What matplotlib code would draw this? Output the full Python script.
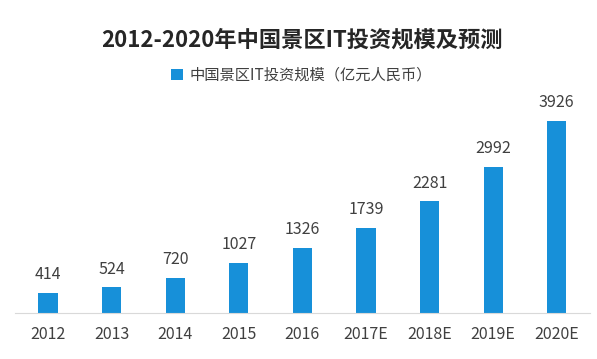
import matplotlib
matplotlib.use('Agg')
import matplotlib.pyplot as plt

plt.rcParams['font.family'] = ['Noto Sans CJK SC', 'DejaVu Sans']

# 数据
years = ['2012', '2013', '2014', '2015', '2016', '2017E', '2018E', '2019E', '2020E']
invest = [414, 524, 720, 1027, 1326, 1739, 2281, 2992, 3926]

bar_color = '#1790d9'
text_color = '#404040'

fig = plt.figure(figsize=(5.97, 3.59), dpi=100)
ax = fig.add_axes([0.025, 0.128, 0.963, 0.613])

x = range(len(years))
bars = ax.bar(x, invest, width=0.3, color=bar_color, label='中国景区IT投资规模（亿元人民币）')

for xi, v in zip(x, invest):
    ax.annotate(str(v), (xi, v), xytext=(0, 7), textcoords='offset points',
                ha='center', va='bottom', fontsize=11.5, color=text_color)

ax.set_xlim(-0.52, 8.52)
ax.set_ylim(0, 4500)
ax.set_xticks(list(x))
ax.set_xticklabels(years, fontsize=11.5, color=text_color)
ax.tick_params(axis='x', length=0, pad=9)
ax.set_yticks([])
for s in ['top', 'right', 'left']:
    ax.spines[s].set_visible(False)
ax.spines['bottom'].set_color('#d9d9d9')

fig.text(0.505, 0.888, '2012-2020年中国景区IT投资规模及预测', ha='center', va='center',
         fontsize=16, fontweight='bold', color='#262626')

fig.legend(loc='center', bbox_to_anchor=(0.505, 0.79), frameon=False, fontsize=11,
           handlelength=0.75, handleheight=0.75, handletextpad=0.4, labelcolor=text_color)

fig.savefig('out.png', dpi=100)
